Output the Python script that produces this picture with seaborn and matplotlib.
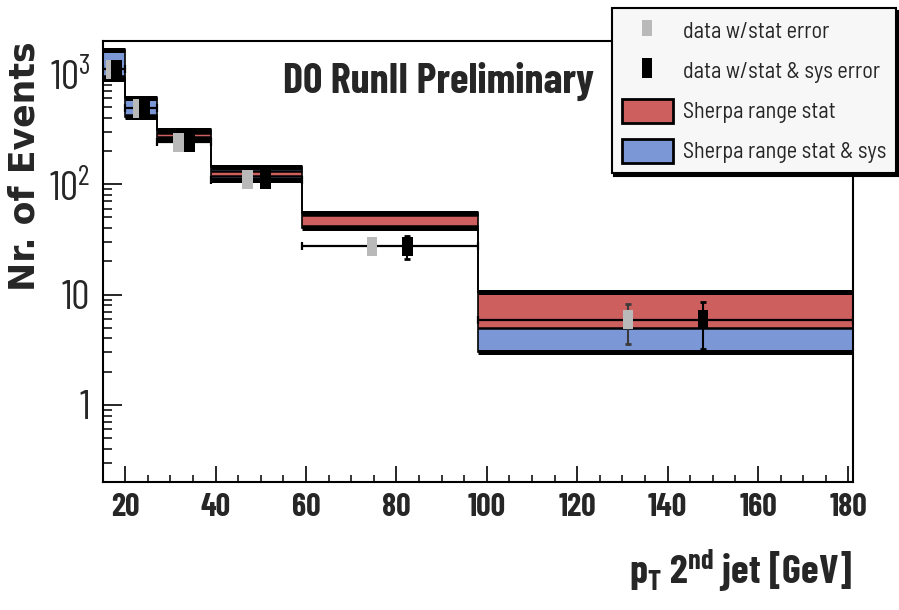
import matplotlib
matplotlib.use("Agg")
import numpy as np
import matplotlib.pyplot as plt
import seaborn as sns
from matplotlib.path import Path
from matplotlib.lines import Line2D
from matplotlib.patches import Patch
from matplotlib.ticker import FixedLocator, FuncFormatter, LogLocator, NullFormatter

# ---- data -----------------------------------------------------------------
bin_edges = [15, 20, 27, 39, 59, 98, 181]

data_val = [1100, 490, 240, 110, 27.5, 5.9]
data_stat_err = [45, 22, 12, 6, 3.0, 2.3]
data_tot_err = [110, 50, 25, 13, 6.5, 2.7]

sherpa_sys_lo = [900, 405, 250, 109, 39.8, 3.0]
sherpa_sys_hi = [1640, 605, 310, 143, 54.5, 10.5]
sherpa_stat_lo = [900, 405, 266, 118, 41.5, 5.0]
sherpa_stat_hi = [960, 425, 291, 133, 53.0, 10.5]

y_tick_values = [1, 10, 100, 1000]
y_tick_labels = ["1", "10", r"$\mathregular{10^{2}}$", r"$\mathregular{10^{3}}$"]
x_tick_values = [20, 40, 60, 80, 100, 120, 140, 160, 180]

legend_labels = ["data w/stat error", "data w/stat & sys error",
                 "Sherpa range stat", "Sherpa range stat & sys"]

# ---- style ----------------------------------------------------------------
sns.set_style("ticks")
COND = ["Barlow Condensed", "Asap Condensed", "DejaVu Sans Condensed", "DejaVu Sans"]
SEMI = ["Barlow Semi Condensed", "Asap Condensed", "DejaVu Sans Condensed", "DejaVu Sans"]
plt.rcParams["font.family"] = COND
plt.rcParams["mathtext.fontset"] = "custom"
plt.rcParams["mathtext.rm"] = "Barlow Condensed"
plt.rcParams["mathtext.bf"] = "Barlow Condensed:bold"
plt.rcParams["mathtext.it"] = "Barlow Condensed:italic"

RED = "#cd5f5f"
BLUE = "#7b97d6"
GREY = "#b9b9b9"

edges = np.array(bin_edges, dtype=float)
lo_e, hi_e = edges[:-1], edges[1:]
centers = 0.5 * (lo_e + hi_e)
widths = hi_e - lo_e

fig = plt.figure(figsize=(8.99, 6.10), dpi=100)
ax = fig.add_axes([0.1142, 0.2098, 0.9488 - 0.1142, 0.9333 - 0.2098])
ax.set_yscale("log")
ax.set_xlim(15, 181)
ax.set_ylim(0.2, 2000)

# ---- Sherpa bands ---------------------------------------------------------
ax.stairs(sherpa_sys_hi, edges, baseline=sherpa_sys_lo, fill=True,
          color=BLUE, lw=0, zorder=1)
ax.stairs(sherpa_stat_hi, edges, baseline=sherpa_stat_lo, fill=True,
          color=RED, lw=0, zorder=1.1)

# outlines: thin steps, thick horizontal edges
for vals in (sherpa_sys_hi, sherpa_sys_lo):
    ax.stairs(vals, edges, baseline=None, color="black", lw=1.2, zorder=2)
    ax.hlines(vals, lo_e, hi_e, color="black", lw=3.6, zorder=2)
ax.hlines(sherpa_stat_lo, lo_e, hi_e, color="black", lw=1.8, zorder=2)
ax.hlines(sherpa_stat_hi, lo_e, hi_e, color="black", lw=1.8, zorder=2)

# ---- data points ------------------------------------------------------------
ax.errorbar(centers, data_val, xerr=widths / 2, fmt="none", ecolor="black",
            elinewidth=1.6, capsize=3, capthick=1.6, zorder=3)

x_stat = centers - 0.1 * widths
x_tot = centers + 0.1 * widths
ax.errorbar(x_stat, data_val, yerr=data_stat_err, fmt="none", ecolor="#3a3a3a",
            elinewidth=1.5, capsize=2, capthick=2, zorder=4)
ax.errorbar(x_tot, data_val, yerr=data_tot_err, fmt="none", ecolor="black",
            elinewidth=1.5, capsize=2, capthick=2, zorder=4)

rect = Path([(-0.28, -0.5), (0.28, -0.5), (0.28, 0.5), (-0.28, 0.5), (-0.28, -0.5)],
            [Path.MOVETO, Path.LINETO, Path.LINETO, Path.LINETO, Path.CLOSEPOLY])
sns.scatterplot(x=x_stat, y=data_val, marker=rect, s=190, color=GREY,
                edgecolor="none", ax=ax, zorder=5)
sns.scatterplot(x=x_tot, y=data_val, marker=rect, s=190, color="black",
                edgecolor="none", ax=ax, zorder=5)

# ---- axes -----------------------------------------------------------------
for side in ("left", "bottom", "top", "right"):
    ax.spines[side].set_visible(True)
    ax.spines[side].set_linewidth(1.5)
    ax.spines[side].set_color("black")

ax.xaxis.set_major_locator(FixedLocator(x_tick_values))
ax.xaxis.set_minor_locator(FixedLocator(np.arange(15, 181, 5)))
ax.yaxis.set_major_locator(FixedLocator(y_tick_values))
ax.yaxis.set_minor_locator(LogLocator(base=10, subs=np.arange(2, 10)))
ax.yaxis.set_major_formatter(FuncFormatter(
    lambda v, p: y_tick_labels[y_tick_values.index(round(v))] if round(v) in y_tick_values else ""))
ax.yaxis.set_minor_formatter(NullFormatter())

ax.tick_params(axis="x", which="major", direction="in", length=11.5, width=1.4,
               top=False, pad=8, labelsize=23)
ax.tick_params(axis="x", which="minor", direction="in", length=5, width=1.3, top=False)
ax.tick_params(axis="y", which="major", direction="in", length=13.5, width=1.4,
               right=False, pad=9, labelsize=29)
ax.tick_params(axis="y", which="minor", direction="in", length=6.5, width=1.3, right=False)
for lab in ax.get_xticklabels():
    lab.set_fontweight("bold")

ax.set_xlabel("")
ax.set_ylabel("")

fig.text(0.027, 0.728, "Nr. of Events", rotation=90, ha="center", va="center",
         fontsize=25, fontweight="bold", family=["DejaVu Sans"])
fig.text(0.9488, 1 - 585 / 610, r"$\mathbf{p_{T}}$ $\mathbf{2^{nd}}$ jet [GeV]",
         ha="right", va="baseline", fontsize=29, fontweight="bold")
fig.text(0.3145, 1 - 93 / 610, "D0 RunII Preliminary", ha="left", va="baseline",
         fontsize=30.5, fontweight="bold")

# ---- legend -----------------------------------------------------------------
handles = [
    Line2D([], [], ls="none", marker=rect, markersize=12, color=GREY, markeredgewidth=0),
    Line2D([], [], ls="none", marker=rect, markersize=14, color="black", markeredgewidth=0),
    Patch(facecolor=RED, edgecolor="black", lw=2),
    Patch(facecolor=BLUE, edgecolor="black", lw=2),
]
leg = fig.legend(handles, legend_labels, loc="upper left",
                 bbox_to_anchor=(0.6804, 0.9864), bbox_transform=fig.transFigure,
                 frameon=True, fancybox=False, edgecolor="black", facecolor="#f7f7f7",
                 framealpha=1, shadow={"color": "black", "alpha": 1},
                 borderpad=0.45, labelspacing=0.7, handlelength=2.3, handleheight=1.3,
                 handletextpad=0.45, borderaxespad=0,
                 prop={"family": SEMI, "size": 16})
leg.get_frame().set_linewidth(1.5)

fig.savefig("out.png", dpi=100)
